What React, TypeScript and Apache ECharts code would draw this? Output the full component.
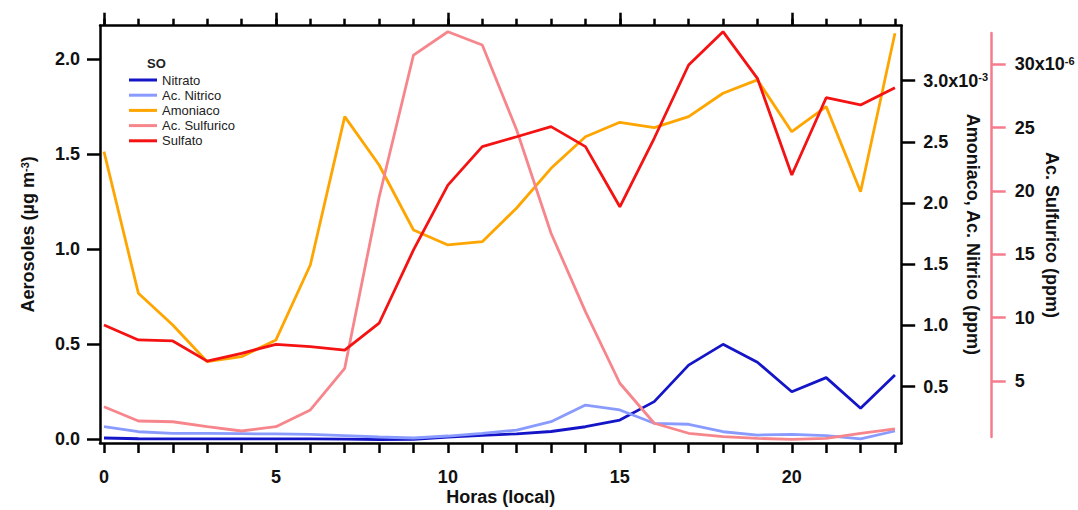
import { useEffect, useRef } from "react";
import * as echarts from "echarts";

// Hour of day (local)
const horas = [0, 1, 2, 3, 4, 5, 6, 7, 8, 9, 10, 11, 12, 13, 14, 15, 16, 17, 18, 19, 20, 21, 22, 23];

// Aerosols, µg m-3 (left axis)
const nitrato = [0.008, 0.004, 0.003, 0.003, 0.003, 0.003, 0.003, 0.002, 0.0, 0.001, 0.012, 0.022, 0.03, 0.042, 0.067, 0.102, 0.199, 0.391, 0.5, 0.406, 0.251, 0.325, 0.164, 0.339];
const sulfato = [0.602, 0.523, 0.518, 0.412, 0.453, 0.5, 0.488, 0.47, 0.611, 0.996, 1.337, 1.539, 1.591, 1.644, 1.539, 1.223, 1.583, 1.968, 2.143, 1.898, 1.39, 1.796, 1.758, 1.849];

// Gases, ppm x10^-3 (first right axis)
const amoniaco = [2.42, 1.263, 1.004, 0.704, 0.745, 0.882, 1.494, 2.706, 2.311, 1.78, 1.658, 1.685, 1.96, 2.284, 2.542, 2.66, 2.616, 2.706, 2.897, 3.006, 2.583, 2.788, 2.093, 3.387];
const acNitrico = [0.173, 0.132, 0.119, 0.118, 0.116, 0.114, 0.11, 0.1, 0.089, 0.081, 0.097, 0.119, 0.146, 0.214, 0.35, 0.31, 0.201, 0.193, 0.132, 0.105, 0.111, 0.1, 0.073, 0.138];

// Sulfuric acid, ppm x10^-6 (second right axis)
const acSulfurico = [2.97, 1.84, 1.78, 1.39, 1.05, 1.39, 2.71, 6.0, 19.5, 30.73, 32.57, 31.52, 24.81, 16.66, 10.47, 4.82, 1.66, 0.87, 0.6, 0.47, 0.39, 0.47, 0.87, 1.21];

// Tick values
const xLabelTicks = [0, 5, 10, 15, 20];
const aerosolTicks = [0, 0.5, 1.0, 1.5, 2.0];
const gasTicks = [0.5, 1.0, 1.5, 2.0, 2.5, 3.0];
const sulfuricoTicks = [5, 10, 15, 20, 25, 30];

const FONT = "'Liberation Sans', Arial, Helvetica, sans-serif";
const INK = "#111";
const PINK_AXIS = "#f47c8e";

const boldText = { color: INK, fontWeight: "bold" as const, fontSize: 18, fontFamily: FONT };
const supStyle = { fontSize: 11, fontWeight: "bold" as const, color: INK, fontFamily: FONT, verticalAlign: "top" as const, lineHeight: 11 };

const pairs = (ys: number[]) => horas.map((h, i) => [h, ys[i]]);

const X_MIN = -0.116;
const X_MAX = 23.196;

export default function App() {
  const ref = useRef<HTMLDivElement>(null);

  useEffect(() => {
    const chart = echarts.init(ref.current!, null, { renderer: "svg" });
    const frameLine = { show: true, onZero: false, lineStyle: { color: "#000", width: 2.5 } };

    const lineSeries = (name: string, color: string, data: number[], xi: number, yi: number, extra = {}) => ({
      name,
      type: "line",
      xAxisIndex: xi,
      yAxisIndex: yi,
      data: pairs(data),
      showSymbol: false,
      symbol: "none",
      lineStyle: { color, width: 2.8 },
      itemStyle: { color },
      ...extra,
    });

    chart.setOption({
      animation: false,
      backgroundColor: "#fff",
      title: {
        text: "SO",
        left: 147,
        top: 57,
        padding: 0,
        textStyle: { fontSize: 13, fontWeight: "bold", color: "#222", fontFamily: FONT },
      },
      legend: {
        orient: "vertical",
        left: 129,
        top: 73,
        padding: 0,
        itemGap: 1.2,
        itemWidth: 28,
        itemHeight: 3,
        icon: "rect",
        data: ["Nitrato", "Ac. Nitrico", "Amoniaco", "Ac. Sulfurico", "Sulfato"],
        textStyle: { fontSize: 13, color: "#222", fontFamily: FONT, lineHeight: 14 },
      },
      grid: [
        { left: 100, right: 176.3, top: 25.7, bottom: 67, outerBoundsMode: "none", containLabel: false },
        { left: 100, right: 176.3, top: 33, bottom: 73, outerBoundsMode: "none", containLabel: false },
      ],
      xAxis: [
        {
          gridIndex: 0,
          type: "value",
          position: "bottom",
          min: X_MIN,
          max: X_MAX,
          axisLine: frameLine,
          axisTick: { show: true, length: 10, customValues: horas, lineStyle: { color: "#000", width: 2.5 } },
          axisLabel: { show: true, customValues: xLabelTicks, margin: 25, ...boldText },
          splitLine: { show: false },
          name: "Horas (local)",
          nameLocation: "middle",
          nameGap: 45,
          nameMoveOverlap: false,
          nameTextStyle: boldText,
        },
        {
          gridIndex: 0,
          type: "value",
          position: "top",
          min: X_MIN,
          max: X_MAX,
          axisLine: frameLine,
          axisTick: { show: true, length: 7, customValues: horas, lineStyle: { color: "#000", width: 2.5 } },
          axisLabel: { show: false },
          splitLine: { show: false },
        },
        {
          gridIndex: 0,
          type: "value",
          position: "top",
          min: X_MIN,
          max: X_MAX,
          axisLine: { show: false, onZero: false },
          axisTick: { show: true, length: 13, customValues: xLabelTicks, lineStyle: { color: "#000", width: 2.5 } },
          axisLabel: { show: false },
          splitLine: { show: false },
        },
        {
          gridIndex: 1,
          type: "value",
          min: X_MIN,
          max: X_MAX,
          show: false,
          splitLine: { show: false },
        },
      ],
      yAxis: [
        {
          gridIndex: 0,
          type: "value",
          position: "left",
          min: -0.0184,
          max: 2.1745,
          axisLine: frameLine,
          axisTick: { show: true, length: 13, customValues: aerosolTicks, lineStyle: { color: "#000", width: 2.5 } },
          axisLabel: {
            show: true,
            customValues: aerosolTicks,
            margin: 20,
            formatter: (v: number) => v.toFixed(1),
            ...boldText,
          },
          splitLine: { show: false },
          name: "Aerosoles (µg m{sup|-3})",
          nameLocation: "middle",
          nameGap: 63,
          nameMoveOverlap: false,
          nameTextStyle: { ...boldText, rich: { sup: supStyle } },
        },
        {
          gridIndex: 0,
          type: "value",
          position: "right",
          min: 0.04,
          max: 3.449,
          axisLine: frameLine,
          axisTick: { show: true, length: 13.5, customValues: gasTicks, lineStyle: { color: "#000", width: 2.5 } },
          axisLabel: {
            show: true,
            customValues: gasTicks,
            margin: 21.5,
            formatter: (v: number) => (Math.abs(v - 3) < 1e-9 ? "3.0x10{sup|-3}" : v.toFixed(1)),
            ...boldText,
            rich: { sup: supStyle },
          },
          splitLine: { show: false },
          name: "Amoniaco, Ac. Nitrico (ppm)",
          nameLocation: "middle",
          nameRotate: -90,
          nameGap: 62,
          nameMoveOverlap: false,
          nameTextStyle: boldText,
        },
        {
          gridIndex: 1,
          type: "value",
          position: "right",
          offset: 90,
          min: 0.576,
          max: 32.47,
          axisLine: { show: true, onZero: false, lineStyle: { color: PINK_AXIS, width: 2.5 } },
          axisTick: { show: true, length: 14, customValues: sulfuricoTicks, lineStyle: { color: PINK_AXIS, width: 2.5 } },
          axisLabel: {
            show: true,
            customValues: sulfuricoTicks,
            margin: 23,
            formatter: (v: number) => (v === 30 ? "30x10{sup|-6}" : String(v)),
            ...boldText,
            rich: { sup: supStyle },
          },
          splitLine: { show: false },
          name: "Ac. Sulfurico (ppm)",
          nameLocation: "middle",
          nameRotate: -90,
          nameGap: 51,
          nameMoveOverlap: false,
          nameTextStyle: boldText,
        },
      ],
      series: [
        lineSeries("Nitrato", "#1515c8", nitrato, 0, 0),
        lineSeries("Ac. Nitrico", "#8a9bff", acNitrico, 0, 1),
        lineSeries("Amoniaco", "#ffa500", amoniaco, 0, 1),
        lineSeries("Ac. Sulfurico", "#f7868c", acSulfurico, 3, 2, { clip: false }),
        lineSeries("Sulfato", "#f51212", sulfato, 0, 0),
      ],
    });

    return () => chart.dispose();
  }, []);

  return (
    <div
      ref={ref}
      style={{ position: "absolute", left: 0, top: 0, width: 1078, height: 510, background: "#fff" }}
    />
  );
}
